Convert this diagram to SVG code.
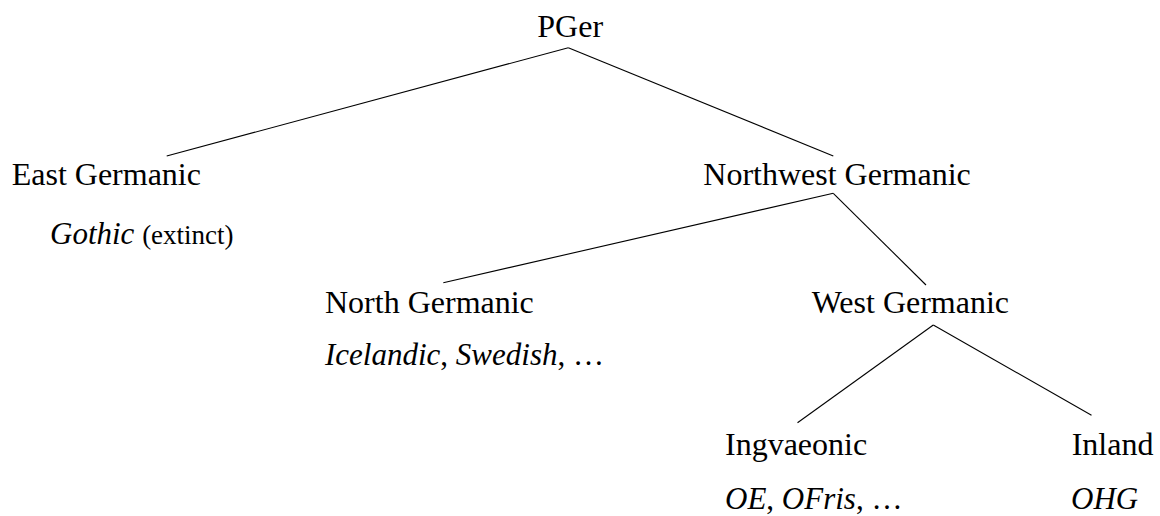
<svg xmlns="http://www.w3.org/2000/svg" width="1160" height="516" viewBox="0 0 1160 516">
<style>
text{font-family:"Liberation Serif","Times New Roman",serif;font-size:32px;fill:#000}
.sub{font-size:31px}
.it{font-style:italic}
.sm{font-size:27px}
line{stroke:#000;stroke-width:1.1}
</style>
<rect width="1160" height="516" fill="#fff"/>
<g id="connectors">
<line x1="568.3" y1="47.7" x2="166.7" y2="156"/>
<line x1="568.3" y1="47.7" x2="833.3" y2="156"/>
<line x1="833.3" y1="193.3" x2="443.3" y2="282.7"/>
<line x1="833.3" y1="193.3" x2="926" y2="285"/>
<line x1="933.3" y1="325" x2="797.5" y2="422.7"/>
<line x1="933.3" y1="325" x2="1091.5" y2="415.3"/>
</g>
<g id="pger"><text x="537.3" y="37">PGer</text></g>
<g id="east"><text x="11.7" y="185">East Germanic</text>
<text class="sub" x="50" y="244"><tspan class="it">Gothic</tspan> <tspan class="sm">(extinct)</tspan></text></g>
<g id="northwest"><text x="703.3" y="184.5">Northwest Germanic</text></g>
<g id="north"><text x="325" y="313">North Germanic</text>
<text class="sub" x="325" y="365"><tspan class="it">Icelandic</tspan>, <tspan class="it">Swedish</tspan>, …</text></g>
<g id="west"><text x="811.7" y="313">West Germanic</text></g>
<g id="ingvaeonic"><text x="725" y="455">Ingvaeonic</text>
<text class="sub" x="725" y="509"><tspan class="it">OE</tspan>, <tspan class="it">OFris</tspan>, …</text></g>
<g id="inland"><text x="1071.7" y="455">Inland</text>
<text class="sub it" x="1071" y="509">OHG</text></g>
</svg>
